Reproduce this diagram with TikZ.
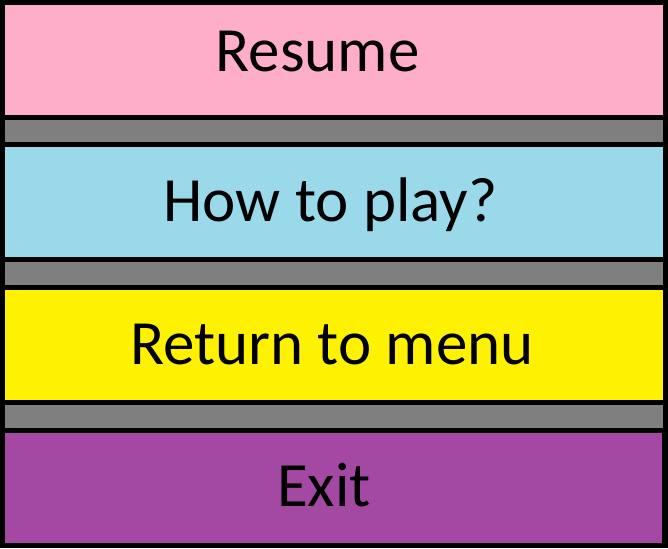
\documentclass[tikz,border=0pt]{standalone}
\usepackage{fontspec}
\setmainfont{Carlito}
\definecolor{rose}{RGB}{255,174,201}
\definecolor{turq}{RGB}{153,217,234}
\definecolor{yel}{RGB}{255,242,0}
\definecolor{purp}{RGB}{163,73,164}
\definecolor{gry}{RGB}{127,127,127}
\begin{document}
\begin{tikzpicture}[x=1pt,y=-1pt,
  lbl/.style={anchor=base,inner sep=0pt,font=\fontsize{63}{63}\selectfont,text=black}]
\useasboundingbox (0,0) rectangle (668,548);
\fill[black] (0,0) rectangle (668,548);
\fill[rose] (5,5) rectangle (663,115);
\fill[gry] (5,120) rectangle (663,142);
\fill[turq] (5,147) rectangle (663,257);
\fill[gry] (5,262) rectangle (663,285);
\fill[yel] (5,290) rectangle (663,400);
\fill[gry] (5,405) rectangle (663,428);
\fill[purp] (5,433) rectangle (662,543);
\node[lbl] (resume) at (317.5,72) {Resume};
\node[lbl] (howto) at (330.5,221) {How to play?};
\node[lbl] (menu) at (332,364) {Return to menu};
\node[lbl] (exit) at (324,506) {Exit};
\end{tikzpicture}
\end{document}
